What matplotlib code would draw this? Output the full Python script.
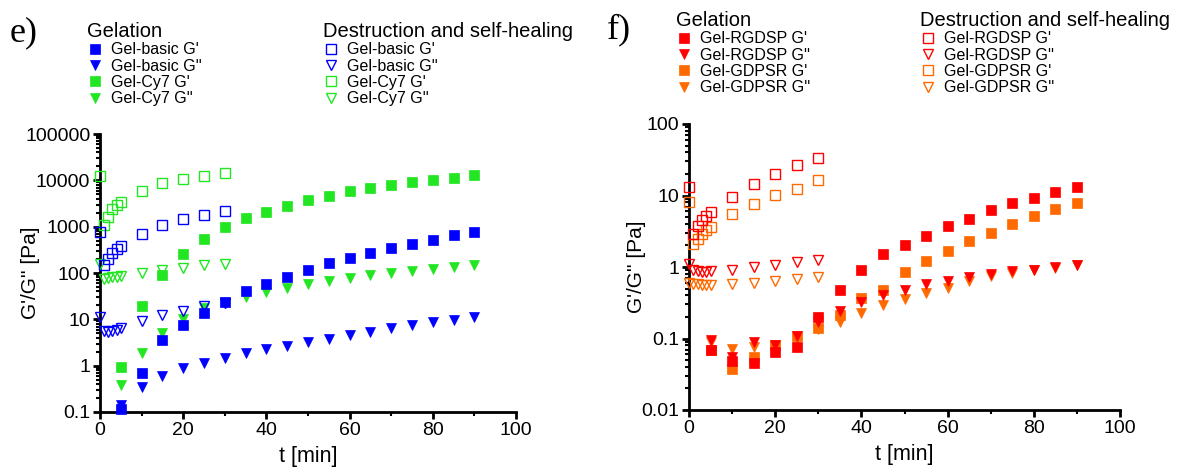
import matplotlib
matplotlib.use("Agg")
import matplotlib.pyplot as plt
from matplotlib.ticker import LogLocator, FuncFormatter, MultipleLocator

plt.rcParams['font.family'] = ['Liberation Sans', 'DejaVu Sans']

# time points
t_gel = [5, 10, 15, 20, 25, 30, 35, 40, 45, 50, 55, 60, 65, 70, 75, 80, 85, 90]
t_heal = [0, 1, 2, 3, 4, 5, 10, 15, 20, 25, 30]

# panel e) gelation
basic_Gp_gel = [0.115, 0.68, 3.6, 7.5, 13.8, 23.5, 41, 58, 83, 118, 167, 215, 271, 354, 432, 528, 667, 764]
basic_Gpp_gel = [0.14, 0.34, 0.59, 0.9, 1.14, 1.47, 1.85, 2.3, 2.7, 3.3, 3.8, 4.6, 5.4, 6.4, 7.5, 8.7, 9.7, 11]
cy7_Gp_gel = [0.95, 19, 92, 262, 555, 1000, 1520, 2100, 2830, 3740, 4680, 5760, 6800, 8100, 9160, 10300, 11500, 12800]
cy7_Gpp_gel = [0.38, 1.85, 5, 10.2, 18, 22, 30, 39, 47, 59, 67, 78, 92, 101, 113, 124, 135, 147]
# panel e) destruction and self-healing
basic_Gp_heal = [770, 146, 204, 271, 325, 385, 700, 1070, 1440, 1800, 2140]
basic_Gpp_heal = [11, 5.5, 5.3, 5.5, 5.9, 6.5, 9.4, 12.7, 15.5, 19, 22]
cy7_Gp_heal = [12500, 1070, 1620, 2350, 2930, 3460, 6000, 8600, 10700, 12600, 14700]
cy7_Gpp_heal = [154, 75, 77, 80, 83, 86, 100, 114, 129, 146, 159]

# panel f) gelation
rgdsp_Gp_gel = [0.07, 0.049, 0.045, 0.064, 0.077, 0.197, 0.47, 0.92, 1.5, 2.0, 2.75, 3.7, 4.7, 6.2, 7.9, 9.1, 11.3, 13.2]
rgdsp_Gpp_gel = [0.096, 0.055, 0.089, 0.081, 0.11, 0.17, 0.24, 0.32, 0.41, 0.47, 0.57, 0.64, 0.72, 0.81, 0.87, 0.92, 1.0, 1.08]
gdpsr_Gp_gel = [0.069, 0.037, 0.056, 0.081, 0.107, 0.14, 0.21, 0.37, 0.47, 0.84, 1.2, 1.66, 2.3, 2.96, 4.0, 5.1, 6.4, 7.9]
gdpsr_Gpp_gel = [0.09, 0.071, 0.077, 0.075, 0.1, 0.135, 0.17, 0.23, 0.29, 0.36, 0.43, 0.51, 0.64, 0.74, 0.82, 0.9, 0.97, 1.05]
# panel f) destruction and self-healing
rgdsp_Gp_heal = [13.2, 2.9, 3.8, 4.5, 5.1, 5.9, 9.6, 14.6, 19.7, 26.4, 33]
rgdsp_Gpp_heal = [1.1, 0.9, 0.87, 0.86, 0.86, 0.87, 0.92, 0.99, 1.05, 1.16, 1.24]
gdpsr_Gp_heal = [8.0, 2.1, 2.5, 2.9, 3.3, 3.6, 5.6, 7.5, 10.3, 12.5, 16.4]
gdpsr_Gpp_heal = [0.6, 0.58, 0.57, 0.56, 0.56, 0.56, 0.58, 0.6, 0.64, 0.68, 0.73]

blue, green = '#0000ff', '#22e622'
red, orange = '#ff0000', '#ff6a00'

W, H = 1181, 470
fig = plt.figure(figsize=(W / 100, H / 100), dpi=100)


def px_axes(x0, y0, x1, y1):
    return fig.add_axes([x0 / W, 1 - y1 / H, (x1 - x0) / W, (y1 - y0) / H])


def style_axes(ax, ymin, ymax, decades, ylab_x):
    ax.set_yscale('log')
    ax.set_xlim(0, 100)
    ax.set_ylim(ymin, ymax)
    for s in ('top', 'right'):
        ax.spines[s].set_visible(False)
    for s in ('left', 'bottom'):
        ax.spines[s].set_linewidth(2.0)
    ax.set_yticks(decades)
    ax.yaxis.set_major_formatter(FuncFormatter(lambda v, p: '%g' % v))
    ax.yaxis.set_minor_locator(LogLocator(base=10, subs=range(2, 10)))
    ax.xaxis.set_major_locator(MultipleLocator(20))
    ax.xaxis.set_minor_locator(MultipleLocator(10))
    ax.tick_params(which='major', length=5, width=2, labelsize=14, pad=2)
    ax.tick_params(which='minor', length=3, width=1.5)
    ax.set_xlabel('t [min]', fontsize=15.5, labelpad=5)
    ax.set_ylabel("G'/G'' [Pa]", fontsize=15)
    ax.yaxis.set_label_coords(ylab_x, 0.5)


def draw(ax, series):
    handles = []
    for x, y, mk, col, filled, lab in series:
        if filled:
            ln, = ax.plot(x, y, ls='none', marker=mk, ms=7.2, mfc=col, mec=col,
                          mew=0.5, label=lab, clip_on=False, zorder=3)
        else:
            ln, = ax.plot(x, y, ls='none', marker=mk, ms=6.6, mfc='none', mec=col,
                          mew=1.0, label=lab, clip_on=False, zorder=3)
        handles.append(ln)
    return handles


def legends(ax, h_gel, h_heal, x_gel, x_heal, y_top):
    kw = dict(loc='upper left', frameon=False, fontsize=11.5, title_fontsize=14.5,
              handlelength=1.0, handletextpad=0.5, labelspacing=0.08, borderpad=0,
              borderaxespad=0, alignment='left', numpoints=1,
              bbox_transform=fig.transFigure)
    l1 = ax.legend(handles=h_gel, title='Gelation',
                   bbox_to_anchor=(x_gel / W, 1 - y_top / H), **kw)
    ax.add_artist(l1)
    ax.legend(handles=h_heal, title='Destruction and self-healing',
              bbox_to_anchor=(x_heal / W, 1 - y_top / H), **kw)


# ---- panel e)
ax1 = px_axes(100, 134, 516, 412)
style_axes(ax1, 0.1, 100000, [0.1, 1, 10, 100, 1000, 10000, 100000], -0.145)
gel_e = [
    (t_gel, cy7_Gpp_gel, 'v', green, True, "Gel-Cy7 G''"),
    (t_gel, cy7_Gp_gel, 's', green, True, "Gel-Cy7 G'"),
    (t_gel, basic_Gpp_gel, 'v', blue, True, "Gel-basic G''"),
    (t_gel, basic_Gp_gel, 's', blue, True, "Gel-basic G'"),
]
heal_e = [
    (t_heal, cy7_Gpp_heal, 'v', green, False, "Gel-Cy7 G''"),
    (t_heal, cy7_Gp_heal, 's', green, False, "Gel-Cy7 G'"),
    (t_heal, basic_Gpp_heal, 'v', blue, False, "Gel-basic G''"),
    (t_heal, basic_Gp_heal, 's', blue, False, "Gel-basic G'"),
]
h1 = draw(ax1, gel_e)[::-1]
h2 = draw(ax1, heal_e)[::-1]
legends(ax1, h1, h2, 87, 323, 22)
fig.text(10 / W, 1 - 33 / H, 'e)', fontsize=26, family='Liberation Serif', va='center')

# ---- panel f)
ax2 = px_axes(689, 124, 1120, 410)
style_axes(ax2, 0.01, 100, [0.01, 0.1, 1, 10, 100], -0.1)
gel_f = [
    (t_gel, gdpsr_Gpp_gel, 'v', orange, True, "Gel-GDPSR G''"),
    (t_gel, gdpsr_Gp_gel, 's', orange, True, "Gel-GDPSR G'"),
    (t_gel, rgdsp_Gpp_gel, 'v', red, True, "Gel-RGDSP G''"),
    (t_gel, rgdsp_Gp_gel, 's', red, True, "Gel-RGDSP G'"),
]
heal_f = [
    (t_heal, gdpsr_Gpp_heal, 'v', orange, False, "Gel-GDPSR G''"),
    (t_heal, gdpsr_Gp_heal, 's', orange, False, "Gel-GDPSR G'"),
    (t_heal, rgdsp_Gpp_heal, 'v', red, False, "Gel-RGDSP G''"),
    (t_heal, rgdsp_Gp_heal, 's', red, False, "Gel-RGDSP G'"),
]
h3 = draw(ax2, gel_f)[::-1]
h4 = draw(ax2, heal_f)[::-1]
legends(ax2, h3, h4, 676, 920, 11)
fig.text(607 / W, 1 - 30 / H, 'f)', fontsize=26, family='Liberation Serif', va='center')

fig.savefig('out.png', dpi=100)
